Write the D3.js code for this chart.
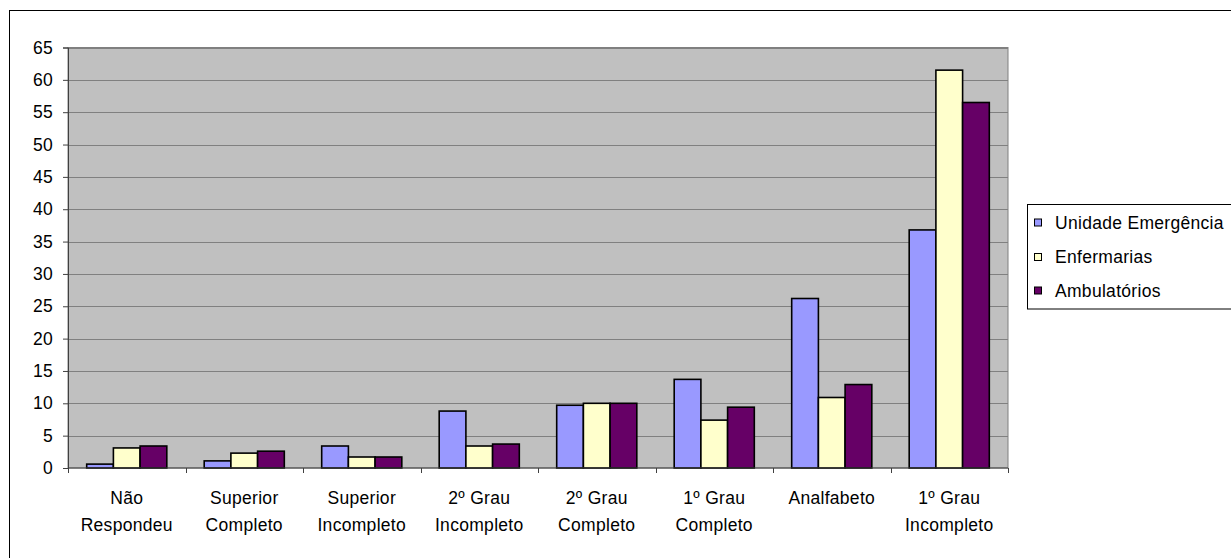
<!DOCTYPE html>
<html>
<head>
<meta charset="utf-8">
<script src="https://cdn.jsdelivr.net/npm/d3@7"></script>
<style>
  html, body { margin: 0; padding: 0; background: #fff; }
  svg { display: block; }
  text { font-family: "Liberation Sans", Arial, sans-serif; font-size: 17.5px; letter-spacing: 0.3px; fill: #000; }
</style>
</head>
<body>
<svg id="chart" width="1231" height="558"></svg>
<script>
// Escolaridade por local de atendimento (%)
const categories = [
  ["Não", "Respondeu"],
  ["Superior", "Completo"],
  ["Superior", "Incompleto"],
  ["2º Grau", "Incompleto"],
  ["2º Grau", "Completo"],
  ["1º Grau", "Completo"],
  ["Analfabeto"],
  ["1º Grau", "Incompleto"]
];
const seriesNames = ["Unidade Emergência", "Enfermarias", "Ambulatórios"];
const unidadeEmergencia = [0.6, 1.1, 3.4, 8.8, 9.7, 13.7, 26.2, 36.8];
const enfermarias      = [3.1, 2.3, 1.7, 3.4, 10.0, 7.4, 10.9, 61.5];
const ambulatorios     = [3.4, 2.6, 1.7, 3.7, 10.0, 9.4, 12.9, 56.5];
const yTicks = [0, 5, 10, 15, 20, 25, 30, 35, 40, 45, 50, 55, 60, 65];
const colors = ["#9999FF", "#FFFFCC", "#660066"];

const seriesValues = [unidadeEmergencia, enfermarias, ambulatorios];
const svg = d3.select("#chart");

// outer chart frame
svg.append("rect")
  .attr("x", 9.5).attr("y", 10.5)
  .attr("width", 1300).attr("height", 700)
  .attr("fill", "#fff").attr("stroke", "#000").attr("stroke-width", 1);

const plot = { left: 68, right: 1008, top: 47.5, bottom: 468 };

const catKeys = categories.map((c, i) => i);
const x0 = d3.scaleBand().domain(catKeys).range([plot.left, plot.right]).padding(0);
const x1 = d3.scaleBand().domain(d3.range(seriesNames.length))
  .range([0, x0.bandwidth()]).paddingInner(0).paddingOuter(0.7);
const y = d3.scaleLinear().domain([0, 65]).range([plot.bottom, plot.top]);

// plot area
svg.append("rect")
  .attr("x", plot.left).attr("y", plot.top)
  .attr("width", plot.right - plot.left).attr("height", plot.bottom - plot.top)
  .attr("fill", "#C0C0C0").attr("stroke", "#808080").attr("stroke-width", 1);

// gridlines
svg.append("g").selectAll("line")
  .data(yTicks.filter(t => t > 0))
  .join("line")
  .attr("x1", plot.left).attr("x2", plot.right)
  .attr("y1", d => Math.round(y(d)) + 0.5).attr("y2", d => Math.round(y(d)) + 0.5)
  .attr("stroke", "#808080").attr("stroke-width", 1);

// bars
const groups = svg.append("g").selectAll("g")
  .data(catKeys)
  .join("g")
  .attr("transform", d => `translate(${x0(d)},0)`);

groups.selectAll("rect")
  .data(i => seriesValues.map((vals, s) => ({ s, v: vals[i] })))
  .join("rect")
  .attr("x", d => x1(d.s))
  .attr("width", x1.bandwidth())
  .attr("y", d => y(d.v))
  .attr("height", d => y(0) - y(d.v))
  .attr("fill", d => colors[d.s])
  .attr("stroke", "#000")
  .attr("stroke-width", 1.6);

// y axis
const yAxis = svg.append("g")
  .attr("transform", `translate(${plot.left},0)`)
  .call(d3.axisLeft(y).tickValues(yTicks).tickSize(5).tickPadding(10).tickFormat(d3.format("d")));
yAxis.select(".domain").attr("stroke", "#404040");
yAxis.selectAll(".tick line").attr("stroke", "#404040");
yAxis.selectAll(".tick text")
  .attr("font-size", null).attr("font-family", null)
  .style("font-size", "17.5px");

// x axis
svg.append("line")
  .attr("x1", plot.left).attr("x2", plot.right)
  .attr("y1", plot.bottom).attr("y2", plot.bottom)
  .attr("stroke", "#404040");
svg.append("g").selectAll("line")
  .data(d3.range(categories.length + 1))
  .join("line")
  .attr("x1", i => Math.round(plot.left + i * x0.step()) + 0.5)
  .attr("x2", i => Math.round(plot.left + i * x0.step()) + 0.5)
  .attr("y1", plot.bottom).attr("y2", plot.bottom + 5)
  .attr("stroke", "#404040");

// category labels
const labels = svg.append("g").selectAll("text")
  .data(catKeys)
  .join("text")
  .attr("text-anchor", "middle")
  .attr("x", d => x0(d) + x0.bandwidth() / 2)
  .attr("y", 503.5);
labels.selectAll("tspan")
  .data(d => categories[d].map((line, k) => ({ line, k, cx: x0(d) + x0.bandwidth() / 2 })))
  .join("tspan")
  .attr("x", d => d.cx)
  .attr("dy", d => d.k === 0 ? 0 : 27)
  .text(d => d.line);

// legend
const legend = svg.append("g");
legend.append("rect")
  .attr("x", 1027.5).attr("y", 204.5)
  .attr("width", 260).attr("height", 104.5)
  .attr("fill", "#fff").attr("stroke", "#000").attr("stroke-width", 1);
const rowY = [222.5, 257, 290.5];
const items = legend.selectAll("g.item")
  .data(seriesNames)
  .join("g").attr("class", "item")
  .attr("transform", (d, i) => `translate(0,${rowY[i]})`);
items.append("rect")
  .attr("x", 1034.5).attr("y", -3.5)
  .attr("width", 7).attr("height", 7)
  .attr("fill", (d, i) => colors[i]).attr("stroke", "#000").attr("stroke-width", 1);
items.append("text")
  .attr("x", 1055).attr("y", 0).attr("dy", "0.36em")
  .text(d => d);
</script>
</body>
</html>
